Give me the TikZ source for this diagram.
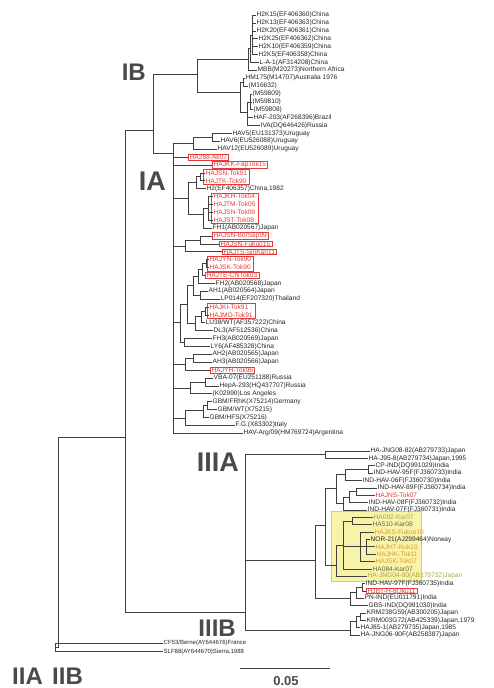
\documentclass[tikz,border=0pt]{standalone}
\usepackage{fontspec}
\setmainfont{Liberation Sans}
\usetikzlibrary{fit}
\definecolor{hared}{HTML}{E23C3A}
\definecolor{hayel}{HTML}{F7F3A8}
\definecolor{haorg}{HTML}{E39B33}
\definecolor{haolv}{HTML}{B2A548}
\definecolor{hagrn}{HTML}{6B6850}
\definecolor{hagry}{HTML}{4A4A4A}
\begin{document}
\begin{tikzpicture}[x=1pt,y=-1pt,
  lf/.style={anchor=west,inner sep=0.5pt,text=black!85,font=\fontsize{6.6}{7}\selectfont},
  rd/.style={lf,text=hared},
  rbx/.style={rd,draw=hared,line width=0.4pt,inner xsep=1.5pt,inner ysep=0.4pt},
  rgrp/.style={draw=hared,line width=0.4pt,inner xsep=1.5pt,inner ysep=0.2pt},
  yo/.style={lf,text=haorg},
  yl/.style={lf,text=haolv},
  yg/.style={lf,text=hagrn},
  sm/.style={lf,font=\fontsize{6}{6.5}\selectfont},
  br/.style={draw=black!75,line width=0.6pt},
  clade/.style={inner sep=0pt,text depth=0pt,text=hagry,font=\fontsize{24}{24}\selectfont\bfseries},
  bigclade/.style={clade,font=\fontsize{27}{27}\selectfont\bfseries}]
\useasboundingbox (0,0) rectangle (493,688);
\fill[hayel,draw=haolv!60,line width=0.4pt] (331,511) rectangle (421,581);

\node[lf] (lf1) at (256,15.0) {H2K15(EF406360)China};
\node[lf] (lf2) at (256,22.9) {H2K13(EF406363)China};
\node[lf] (lf3) at (256,30.8) {H2K20(EF406361)China};
\node[lf] (lf4) at (258,38.7) {H2K25(EF406362)China};
\node[lf] (lf5) at (258,46.6) {H2K10(EF406359)China};
\node[lf] (lf6) at (258,54.5) {H2K5(EF406358)China};
\node[lf] (lf7) at (259,62.3) {L-A-1(AF314208)China};
\node[lf] (lf8) at (257,70.2) {MBB(M20273)Northern Africa};
\node[lf] (lf9) at (245,78.1) {HM175(M14707)Australia 1976};
\node[lf] (lf10) at (248,86.0) {(M16632)};
\node[lf] (lf11) at (252,93.9) {(M59809)};
\node[lf] (lf12) at (252,101.8) {(M59810)};
\node[lf] (lf13) at (253,109.7) {(M59808)};
\node[lf] (lf14) at (253,117.6) {HAF-203(AF268396)Brazil};
\node[lf] (lf15) at (260,125.5) {IVA(DQ646426)Russia};
\node[lf] (lf16) at (232,133.4) {HAV5(EU131373)Uruguay};
\node[lf] (lf17) at (220,141.2) {HAV6(EU526088)Uruguay};
\node[lf] (lf18) at (217,149.1) {HAV12(EU526089)Uruguay};
\node[rbx] (lf19) at (188,157.0) {HA288-Ak07};
\node[rbx] (lf20) at (212,164.9) {HAJKK-FapTok15};
\node[rd] (lf21) at (205,172.8) {HAJSN-Tok91};
\node[rd] (lf22) at (205,180.7) {HAJTK-Tok90};
\node[lf] (lf23) at (206,188.6) {H2(EF406357)China,1982};
\node[rd] (lf24) at (213,196.5) {HAJKH-Tok04};
\node[rd] (lf25) at (213,204.4) {HAJTM-Tok05};
\node[rd] (lf26) at (213,212.2) {HAJSN-Tok09};
\node[rd] (lf27) at (213,220.1) {HAJST-Tok08};
\node[lf] (lf28) at (212,228.0) {FH1(AB020567)Japan};
\node[rbx] (lf29) at (212,235.9) {HAJSN-BorSap99};
\node[rbx] (lf30) at (219,243.8) {HAJSN-Fukuo15};
\node[rbx] (lf31) at (222,251.7) {HAJTS-SinKan11};
\node[rd] (lf32) at (209,259.6) {HAJYN-Tok90};
\node[rd] (lf33) at (209,267.5) {HAJSK-Tok90};
\node[rbx] (lf34) at (205,275.4) {HAJTE-ChiTok03};
\node[lf] (lf35) at (215,283.3) {FH2(AB020568)Japan};
\node[lf] (lf36) at (208,291.1) {AH1(AB020564)Japan};
\node[lf] (lf37) at (220,299.0) {LP014(EF207320)Thailand};
\node[rd] (lf38) at (209,306.9) {HAJKI-Tok91};
\node[rd] (lf39) at (209,314.8) {HAJMO-Tok91};
\node[lf] (lf40) at (205,322.7) {LU38/WT(AF357222)China};
\node[lf] (lf41) at (213,330.6) {DL3(AF512536)China};
\node[lf] (lf42) at (212,338.5) {FH3(AB020569)Japan};
\node[lf] (lf43) at (210,346.4) {LY6(AF485328)China};
\node[lf] (lf44) at (212,354.2) {AH2(AB020565)Japan};
\node[lf] (lf45) at (212,362.1) {AH3(AB020566)Japan};
\node[rbx] (lf46) at (210,370.0) {HAJYH-Tok96};
\node[lf] (lf47) at (213,377.9) {VBA-07(EU251188)Russia};
\node[lf] (lf48) at (219,385.8) {HepA-293(HQ437707)Russia};
\node[lf] (lf49) at (212,393.7) {(K02990)Los Angeles};
\node[lf] (lf50) at (212,401.6) {GBM/FRhK(X75214)Germany};
\node[lf] (lf51) at (217,409.5) {GBM/WT(X75215)};
\node[lf] (lf52) at (209,417.4) {GBM/HFS(X75216)};
\node[lf] (lf53) at (235,425.2) {F.G.(X83302)Italy};
\node[lf] (lf54) at (243,433.1) {HAV-Arg/09(HM769724)Argentina};
\node[lf] (lf55) at (370,451.0) {HA-JNG08-82(AB279733)Japan};
\node[lf] (lf56) at (368,458.4) {HA-J95-8(AB279734)Japan,1995};
\node[lf] (lf57) at (375,465.7) {CP-IND(DQ991029)India};
\node[lf] (lf58) at (373,473.1) {IND-HAV-95F(FJ360733)India};
\node[lf] (lf59) at (362,480.4) {IND-HAV-06F(FJ360730)India};
\node[lf] (lf60) at (377,487.8) {IND-HAV-89F(FJ360734)India};
\node[rd] (lf61) at (375,495.2) {HAJNS-Tok07};
\node[lf] (lf62) at (368,502.5) {IND-HAV-08F(FJ360732)India};
\node[lf] (lf63) at (367,509.9) {IND-HAV-07F(FJ360731)India};
\node[yl] (lf64) at (373,517.2) {HA082-Kar07};
\node[yg] (lf65) at (372,524.6) {HA510-Kar08};
\node[yo] (lf66) at (374,532.0) {HAJKS-Fukuo10};
\node[lf] (lf67) at (370,539.3) {NOR-21(AJ299464)Norway};
\node[yo] (lf68) at (375,546.7) {HAJHT-Kuk10};
\node[yo] (lf69) at (376,554.0) {HAJHK-Tok11};
\node[yo] (lf70) at (375,561.4) {HAJSK-Tok07};
\node[yg] (lf71) at (372,568.8) {HA084-Kar07};
\node[yl] (lf72) at (367,576.1) {HA-JNG04-90(AB279732)Japan};
\node[lf] (lf73) at (365,583.5) {IND-HAV-97F(FJ360735)India};
\node[rbx] (lf74) at (366,590.8) {HJBT-H-8Oku11};
\node[lf] (lf75) at (364,598.2) {PN-IND(EU011791)India};
\node[lf] (lf76) at (368,605.6) {GBS-IND(DQ991030)India};
\node[lf] (lf77) at (366,612.9) {KRM238G59(AB300205)Japan};
\node[lf] (lf78) at (366,620.3) {KRM003G72(AB425339)Japan,1979};
\node[lf] (lf79) at (360,627.6) {HAJ85-1(AB279735)Japan,1985};
\node[lf] (lf80) at (360,635.0) {HA-JNG06-90F(AB258387)Japan};
\node[sm] (lf81) at (163,643.0) {CF53/Berne(AY644676)France};
\node[sm] (lf82) at (163,651.5) {SLF88(AY644670)Sierra,1988};

\node[rgrp,fit=(lf21)(lf22)] (bx21) {};
\node[rgrp,fit=(lf24)(lf25)(lf26)(lf27)] (bx24) {};
\node[rgrp,fit=(lf32)(lf33)] (bx32) {};
\node[rgrp,fit=(lf38)(lf39)] (bx38) {};

\coordinate (h2k) at (252.5,34.8);
\coordinate (hla) at (250.5,48);
\coordinate (htop) at (248,59);
\coordinate (hm) at (243,82);
\coordinate (m598) at (250,101.8);
\coordinate (mcl) at (247,112);
\coordinate (hbot) at (240,92);
\coordinate (nIB) at (197,74);
\draw[br] (h2k) |- (lf1) (h2k) |- (lf2) (h2k) |- (lf3) (h2k) |- (lf4) (h2k) |- (lf5) (h2k) |- (lf6);
\draw[br] (hla) |- (h2k) (hla) |- (lf7);
\draw[br] (htop) |- (hla) (htop) |- (lf8);
\draw[br] (hm) |- (lf9) (hm) |- (lf10);
\draw[br] (m598) |- (lf11) (m598) |- (lf12) (m598) |- (lf13);
\draw[br] (mcl) |- (m598) (mcl) |- (lf14) (mcl) |- (lf15);
\draw[br] (hbot) |- (hm) (hbot) |- (mcl);
\draw[br] (nIB) |- (htop) (nIB) |- (hbot);

\coordinate (hav56) at (212,137.3);
\coordinate (hav) at (193,143);
\coordinate (a1) at (200,176.7);
\coordinate (a2) at (196,182);
\coordinate (a3) at (208,208.3);
\coordinate (a4) at (203,214);
\coordinate (a5) at (188,198);
\coordinate (b1) at (200,239.8);
\coordinate (b2) at (185,246);
\coordinate (c1) at (206,263.5);
\coordinate (c2) at (202,269);
\coordinate (c3) at (198,276);
\coordinate (c4) at (200,295);
\coordinate (c5) at (193,285);
\coordinate (c6) at (205,310.8);
\coordinate (c7) at (201,316);
\coordinate (c8) at (195,323);
\coordinate (c9) at (187,304);
\coordinate (d1) at (184,342.5);
\coordinate (c10) at (180,322);
\coordinate (e1) at (193,358.2);
\coordinate (e2) at (185,364);
\coordinate (f1) at (205,381.9);
\coordinate (f2) at (190,388);
\coordinate (k1) at (207,405.5);
\coordinate (k2) at (203,410);
\coordinate (k3) at (185,418);
\coordinate (nIA) at (173,153);
\draw[br] (hav56) |- (lf16) (hav56) |- (lf17);
\draw[br] (hav) |- (hav56) (hav) |- (lf18);
\draw[br] (a1) |- (lf21) (a1) |- (lf22);
\draw[br] (a2) |- (a1) (a2) |- (lf23);
\draw[br] (a3) |- (lf24) (a3) |- (lf25) (a3) |- (lf26) (a3) |- (lf27);
\draw[br] (a4) |- (a3) (a4) |- (lf28);
\draw[br] (a5) |- (a2) (a5) |- (a4);
\draw[br] (b1) |- (lf29) (b1) |- (lf30);
\draw[br] (b2) |- (b1) (b2) |- (lf31);
\draw[br] (c1) |- (lf32) (c1) |- (lf33);
\draw[br] (c2) |- (c1) (c2) |- (lf34);
\draw[br] (c3) |- (c2) (c3) |- (lf35);
\draw[br] (c4) |- (lf36) (c4) |- (lf37);
\draw[br] (c5) |- (c3) (c5) |- (c4);
\draw[br] (c6) |- (lf38) (c6) |- (lf39);
\draw[br] (c7) |- (c6) (c7) |- (lf40);
\draw[br] (c8) |- (c7) (c8) |- (lf41);
\draw[br] (c9) |- (c5) (c9) |- (c8);
\draw[br] (d1) |- (lf42) (d1) |- (lf43);
\draw[br] (c10) |- (c9) (c10) |- (d1);
\draw[br] (e1) |- (lf44) (e1) |- (lf45);
\draw[br] (e2) |- (e1) (e2) |- (lf46);
\draw[br] (f1) |- (lf47) (f1) |- (lf48);
\draw[br] (f2) |- (f1) (f2) |- (lf49);
\draw[br] (k1) |- (lf50) (k1) |- (lf51);
\draw[br] (k2) |- (k1) (k2) |- (lf52);
\draw[br] (k3) |- (k2) (k3) |- (lf53);
\draw[br] (nIA) |- (hav) (nIA) |- (lf19) (nIA) |- (lf20) (nIA) |- (a5) (nIA) |- (b2);
\draw[br] (nIA) |- (c10) (nIA) |- (e2) (nIA) |- (f2) (nIA) |- (k3) (nIA) |- (lf54);

\coordinate (pr) at (325,454.7);
\coordinate (i1) at (368,469.4);
\coordinate (i2) at (345,474);
\coordinate (i3) at (356,491.5);
\coordinate (i4) at (349,497);
\coordinate (i5) at (343,503);
\coordinate (nInd) at (336,488);
\coordinate (yA) at (352,520.9);
\coordinate (yN) at (366,546.7);
\coordinate (yB) at (360,546);
\coordinate (y1) at (343,545);
\coordinate (y0) at (336,565);
\coordinate (nIY) at (325,525);
\coordinate (g1) at (362,587.2);
\coordinate (g2) at (356,592);
\coordinate (g3) at (350,598);
\coordinate (nIIIAr) at (315,560);
\coordinate (q1) at (360,616.6);
\coordinate (q2) at (356,621);
\coordinate (nIIIB) at (350,630);
\coordinate (nIII) at (245,612);
\draw[br] (pr) |- (lf55) (pr) |- (lf56);
\draw[br] (i1) |- (lf57) (i1) |- (lf58);
\draw[br] (i2) |- (i1) (i2) |- (lf59);
\draw[br] (i3) |- (lf60) (i3) |- (lf61);
\draw[br] (i4) |- (i3) (i4) |- (lf62);
\draw[br] (i5) |- (i4) (i5) |- (lf63);
\draw[br] (nInd) |- (i2) (nInd) |- (i5);
\draw[br] (yA) |- (lf64) (yA) |- (lf65);
\draw[br] (yN) |- (lf67) (yN) |- (lf68) (yN) |- (lf69);
\draw[br] (yB) |- (lf66) (yB) |- (yN) (yB) |- (lf70);
\draw[br] (y1) |- (yA) (y1) |- (yB) (y1) |- (lf71);
\draw[br] (y0) |- (y1) (y0) |- (lf72);
\draw[br] (nIY) |- (nInd) (nIY) |- (y0);
\draw[br] (g1) |- (lf73) (g1) |- (lf74);
\draw[br] (g2) |- (g1) (g2) |- (lf75);
\draw[br] (g3) |- (g2) (g3) |- (lf76);
\draw[br] (nIIIAr) |- (nIY) (nIIIAr) |- (g3);
\draw[br] (q1) |- (lf77) (q1) |- (lf78);
\draw[br] (q2) |- (q1) (q2) |- (lf79);
\draw[br] (nIIIB) |- (q2) (nIIIB) |- (lf80);
\draw[br] (nIII) |- (pr) (nIII) |- (nIIIAr) (nIII) |- (nIIIB);

\coordinate (nI) at (153,130);
\coordinate (nIandIII) at (125,437);
\coordinate (root) at (58,437);
\coordinate (nII) at (55,647.3);
\draw[br] (nI) |- (nIB) (nI) |- (nIA);
\draw[br] (nIandIII) |- (nI) (nIandIII) |- (nIII);
\draw[br] (root) -- (nIandIII) (root) |- (nII);
\draw[br] (nII) |- (lf81) (nII) |- (lf82);

\node[clade,anchor=base east] (cIB) at (146,80) {IB};
\node[bigclade,anchor=base east] (cIA) at (166,190) {IA};
\node[bigclade,anchor=base east] (cIIIA) at (239,471) {IIIA};
\node[clade,anchor=base east] (cIIIB) at (236,636) {IIIB};
\node[clade,anchor=base west] (cIIA) at (12,684) {IIA};
\node[clade,anchor=base west] (cIIB) at (52,684) {IIB};

\coordinate (sb1) at (240,668);
\coordinate (sb2) at (330,668);
\draw[br] (sb1) -- (sb2);
\node[inner sep=0pt,text=hagry,font=\fontsize{13}{13}\selectfont\bfseries] (sblab) at (286,681) {0.05};
\end{tikzpicture}
\end{document}
